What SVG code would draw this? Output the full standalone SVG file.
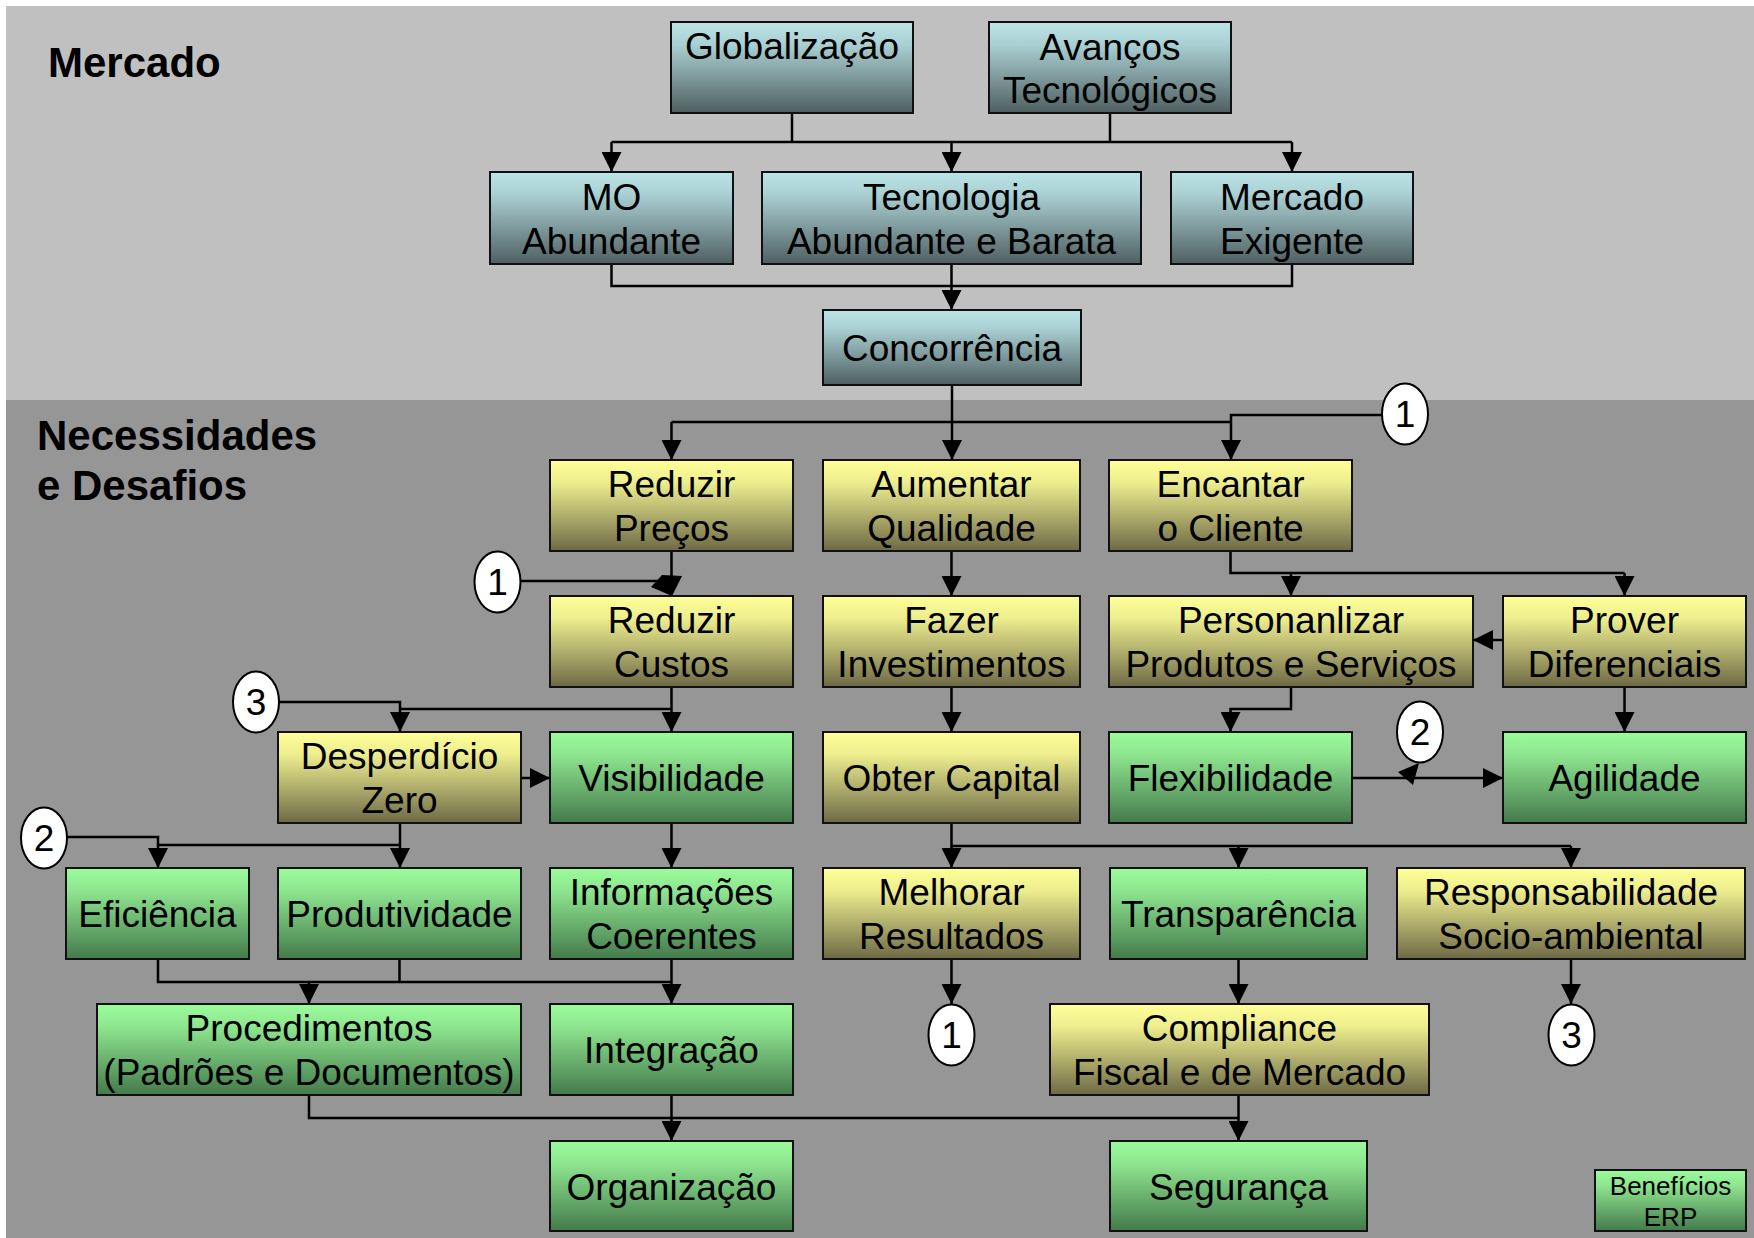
<svg xmlns="http://www.w3.org/2000/svg" width="1754" height="1238" viewBox="0 0 1754 1238">
<style>
.box{stroke:#111;stroke-width:2}
.teal{fill:url(#gTeal)}
.yel{fill:url(#gYel)}
.grn{fill:url(#gGrn)}
.t{font-family:"Liberation Sans",Arial,sans-serif;font-size:37px;fill:#000;text-anchor:middle}
.h{font-family:"Liberation Sans",Arial,sans-serif;font-size:42px;font-weight:bold;fill:#000}
.c{fill:#fff;stroke:#000;stroke-width:2}
.ln{fill:none;stroke:#000;stroke-width:2.5}
.ar{marker-end:url(#arr)}
</style>
<defs>
<linearGradient id="gTeal" x1="0" y1="0" x2="0" y2="1"><stop offset="0" stop-color="#bce4e7"/><stop offset="0.25" stop-color="#a9cfd2"/><stop offset="1" stop-color="#4f5f61"/></linearGradient>
<linearGradient id="gYel" x1="0" y1="0" x2="0" y2="1"><stop offset="0" stop-color="#ffff99"/><stop offset="0.25" stop-color="#eded8e"/><stop offset="1" stop-color="#6d6946"/></linearGradient>
<linearGradient id="gGrn" x1="0" y1="0" x2="0" y2="1"><stop offset="0" stop-color="#9bfc9b"/><stop offset="0.25" stop-color="#8ee58f"/><stop offset="1" stop-color="#447a4c"/></linearGradient>
<marker id="arr" markerUnits="userSpaceOnUse" markerWidth="20" markerHeight="20" viewBox="0 0 20 20" refX="20" refY="10" orient="auto"><path d="M0,0 L20,10 L0,20 z" fill="#000"/></marker>
</defs>
<rect x="0" y="0" width="1754" height="1238" fill="#ffffff"/>
<rect x="6" y="6" width="1748" height="394" fill="#c0c0c0"/>
<rect x="6" y="400" width="1748" height="838" fill="#969696"/>
<text class="h" x="48" y="77">Mercado</text>
<text class="h" x="37" y="450">Necessidades</text>
<text class="h" x="37" y="500">e Desafios</text>

<g id="connectors">
<path class="ln" d="M792,113 V142 M1110,113 V142 M611.5,142 H1292"/>
<path class="ln ar" d="M611.5,142 V172"/>
<path class="ln ar" d="M951.5,142 V172"/>
<path class="ln ar" d="M1292,142 V172"/>
<path class="ln" d="M611.5,264 V286 H1292 V264"/>
<path class="ln ar" d="M951.5,264 V310"/>
<path class="ln ar" d="M952,385 V460"/>
<path class="ln" d="M671.5,422 H1231"/>
<path class="ln ar" d="M671.5,422 V460"/>
<path class="ln ar" d="M1382,415 H1231 V460"/>
<path class="ln" d="M671.5,551 V577 M520,581 H662"/>
<polygon points="662,575 682,576 672,596 651,587" fill="#000"/>
<path class="ln ar" d="M951.5,551 V596"/>
<path class="ln ar" d="M951.5,687 V732"/>
<path class="ln ar" d="M671.5,687 V732"/>
<path class="ln" d="M400,709 H671.5"/>
<path class="ln ar" d="M278,702 H400 V732"/>
<path class="ln ar" d="M521,778 H550"/>
<path class="ln ar" d="M66,837 H158 V868"/>
<path class="ln" d="M158,845 H400"/>
<path class="ln ar" d="M400,823 V868"/>
<path class="ln ar" d="M671.5,823 V868"/>
<path class="ln" d="M158,959 V982 H671.5 M399.5,959 V982"/>
<path class="ln ar" d="M309,982 V1004"/>
<path class="ln ar" d="M671.5,959 V1004"/>
<path class="ln" d="M309,1095 V1118 H1238.5"/>
<path class="ln ar" d="M671.5,1095 V1141"/>
<path class="ln ar" d="M1238.5,1095 V1141"/>
<path class="ln" d="M951.5,823 V846 H1571"/>
<path class="ln ar" d="M951.5,846 V868"/>
<path class="ln ar" d="M1238.5,846 V868"/>
<path class="ln ar" d="M1571,846 V868"/>
<path class="ln ar" d="M951.5,959 V1004"/>
<path class="ln ar" d="M1238.5,959 V1004"/>
<path class="ln ar" d="M1571,959 V1004"/>
<path class="ln" d="M1230.5,551 V573 H1624.5"/>
<path class="ln ar" d="M1291,573 V596"/>
<path class="ln ar" d="M1624.5,573 V596"/>
<path class="ln ar" d="M1503,640 H1473"/>
<path class="ln ar" d="M1291,687 V709 H1230.5 V732"/>
<path class="ln ar" d="M1624.5,687 V732"/>
<path class="ln ar" d="M1352,778 H1503"/>
<polygon points="1398,772 1419,763 1413,785" fill="#000"/>
</g>

<g id="n-globalizacao"><rect class="box teal" x="671" y="22" width="242" height="91"/><text class="t" x="792" y="59">Globalização</text></g>
<g id="n-avancos"><rect class="box teal" x="989" y="22" width="242" height="91"/><text class="t" x="1110" y="60">Avanços</text><text class="t" x="1110" y="103">Tecnológicos</text></g>
<g id="n-mo"><rect class="box teal" x="490" y="172" width="243" height="92"/><text class="t" x="611.5" y="210">MO</text><text class="t" x="611.5" y="254">Abundante</text></g>
<g id="n-tecnologia"><rect class="box teal" x="762" y="172" width="379" height="92"/><text class="t" x="951.5" y="210">Tecnologia</text><text class="t" x="951.5" y="254">Abundante e Barata</text></g>
<g id="n-mercado"><rect class="box teal" x="1171" y="172" width="242" height="92"/><text class="t" x="1292" y="210">Mercado</text><text class="t" x="1292" y="254">Exigente</text></g>
<g id="n-concorrencia"><rect class="box teal" x="823" y="310" width="258" height="75"/><text class="t" x="952" y="361">Concorrência</text></g>

<g id="n-reduzir-precos"><rect class="box yel" x="550" y="460" width="243" height="91"/><text class="t" x="671.5" y="497">Reduzir</text><text class="t" x="671.5" y="541">Preços</text></g>
<g id="n-aumentar"><rect class="box yel" x="823" y="460" width="257" height="91"/><text class="t" x="951.5" y="497">Aumentar</text><text class="t" x="951.5" y="541">Qualidade</text></g>
<g id="n-encantar"><rect class="box yel" x="1109" y="460" width="243" height="91"/><text class="t" x="1230.5" y="497">Encantar</text><text class="t" x="1230.5" y="541">o Cliente</text></g>
<g id="n-reduzir-custos"><rect class="box yel" x="550" y="596" width="243" height="91"/><text class="t" x="671.5" y="633">Reduzir</text><text class="t" x="671.5" y="677">Custos</text></g>
<g id="n-fazer"><rect class="box yel" x="823" y="596" width="257" height="91"/><text class="t" x="951.5" y="633">Fazer</text><text class="t" x="951.5" y="677">Investimentos</text></g>
<g id="n-personalizar"><rect class="box yel" x="1109" y="596" width="364" height="91"/><text class="t" x="1291" y="633">Personanlizar</text><text class="t" x="1291" y="677">Produtos e Serviços</text></g>
<g id="n-prover"><rect class="box yel" x="1503" y="596" width="243" height="91"/><text class="t" x="1624.5" y="633">Prover</text><text class="t" x="1624.5" y="677">Diferenciais</text></g>
<g id="n-desperdicio"><rect class="box yel" x="278" y="732" width="243" height="91"/><text class="t" x="399.5" y="769">Desperdício</text><text class="t" x="399.5" y="813">Zero</text></g>
<g id="n-obter"><rect class="box yel" x="823" y="732" width="257" height="91"/><text class="t" x="951.5" y="791">Obter Capital</text></g>
<g id="n-melhorar"><rect class="box yel" x="823" y="868" width="257" height="91"/><text class="t" x="951.5" y="905">Melhorar</text><text class="t" x="951.5" y="949">Resultados</text></g>
<g id="n-responsabilidade"><rect class="box yel" x="1397" y="868" width="348" height="91"/><text class="t" x="1571" y="905">Responsabilidade</text><text class="t" x="1571" y="949">Socio-ambiental</text></g>
<g id="n-compliance"><rect class="box yel" x="1050" y="1004" width="379" height="91"/><text class="t" x="1239.5" y="1041">Compliance</text><text class="t" x="1239.5" y="1085">Fiscal e de Mercado</text></g>

<g id="n-visibilidade"><rect class="box grn" x="550" y="732" width="243" height="91"/><text class="t" x="671.5" y="791">Visibilidade</text></g>
<g id="n-flexibilidade"><rect class="box grn" x="1109" y="732" width="243" height="91"/><text class="t" x="1230.5" y="791">Flexibilidade</text></g>
<g id="n-agilidade"><rect class="box grn" x="1503" y="732" width="243" height="91"/><text class="t" x="1624.5" y="791">Agilidade</text></g>
<g id="n-eficiencia"><rect class="box grn" x="66" y="868" width="183" height="91"/><text class="t" x="157.5" y="927">Eficiência</text></g>
<g id="n-produtividade"><rect class="box grn" x="278" y="868" width="243" height="91"/><text class="t" x="399.5" y="927">Produtividade</text></g>
<g id="n-informacoes"><rect class="box grn" x="550" y="868" width="243" height="91"/><text class="t" x="671.5" y="905">Informações</text><text class="t" x="671.5" y="949">Coerentes</text></g>
<g id="n-transparencia"><rect class="box grn" x="1110" y="868" width="257" height="91"/><text class="t" x="1238.5" y="927">Transparência</text></g>
<g id="n-procedimentos"><rect class="box grn" x="97" y="1004" width="424" height="91"/><text class="t" x="309" y="1041">Procedimentos</text><text class="t" x="309" y="1085">(Padrões e Documentos)</text></g>
<g id="n-integracao"><rect class="box grn" x="550" y="1004" width="243" height="91"/><text class="t" x="671.5" y="1063">Integração</text></g>
<g id="n-organizacao"><rect class="box grn" x="550" y="1141" width="243" height="90"/><text class="t" x="671.5" y="1199.5">Organização</text></g>
<g id="n-seguranca"><rect class="box grn" x="1110" y="1141" width="257" height="90"/><text class="t" x="1238.5" y="1199.5">Segurança</text></g>
<g id="n-legend"><rect class="box grn" x="1595" y="1170" width="151" height="61"/><text class="t" style="font-size:26px" x="1670.5" y="1195">Benefícios</text><text class="t" style="font-size:26px" x="1670.5" y="1226">ERP</text></g>

<g id="c-1a"><ellipse class="c" cx="1405" cy="414" rx="23" ry="30.5"/><text class="t" x="1405" y="427">1</text></g>
<g id="c-1b"><ellipse class="c" cx="497.5" cy="582" rx="23" ry="30.5"/><text class="t" x="497.5" y="595">1</text></g>
<g id="c-3a"><ellipse class="c" cx="256" cy="702" rx="23" ry="30.5"/><text class="t" x="256" y="715">3</text></g>
<g id="c-2a"><ellipse class="c" cx="44" cy="838" rx="23" ry="30.5"/><text class="t" x="44" y="851">2</text></g>
<g id="c-2b"><ellipse class="c" cx="1420" cy="732" rx="23" ry="30.5"/><text class="t" x="1420" y="745">2</text></g>
<g id="c-1c"><ellipse class="c" cx="951.5" cy="1035" rx="23" ry="30.5"/><text class="t" x="951.5" y="1048">1</text></g>
<g id="c-3b"><ellipse class="c" cx="1571.5" cy="1035" rx="23" ry="30.5"/><text class="t" x="1571.5" y="1048">3</text></g>
</svg>
